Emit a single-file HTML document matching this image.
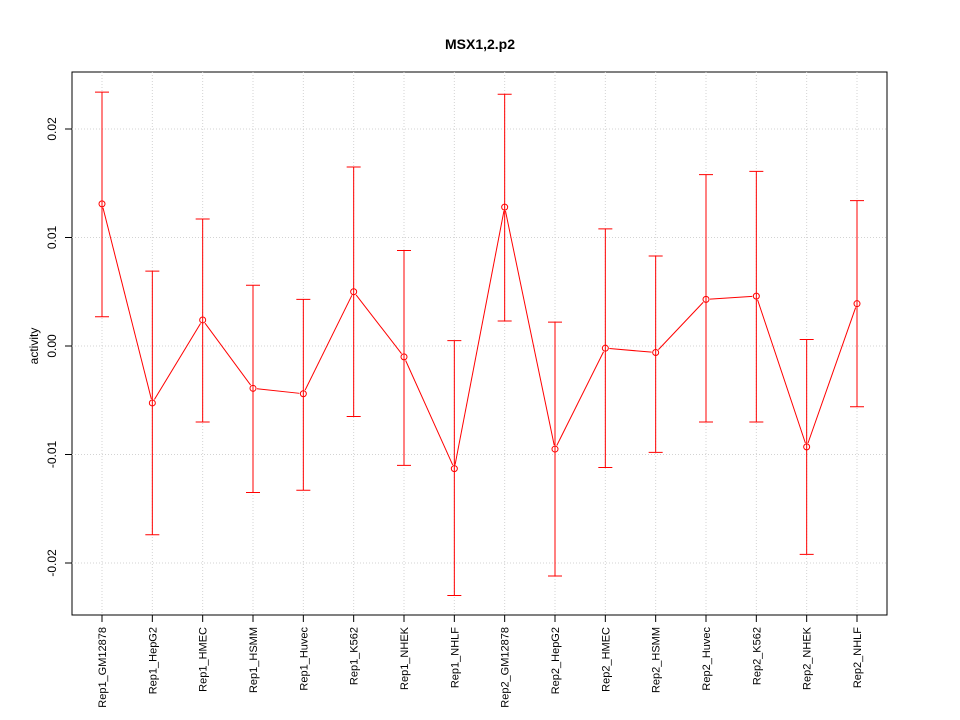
<!DOCTYPE html>
<html><head><meta charset="utf-8"><style>
body{margin:0;background:#fff}
svg{display:block;font-family:"Liberation Sans",sans-serif}
</style></head><body>
<svg id="chart" width="960" height="720">
<text x="480" y="49" text-anchor="middle" font-size="14" font-weight="bold">MSX1,2.p2</text>
<rect x="72" y="72" width="815" height="543" fill="none" stroke="#000"/>
<text transform="translate(38,346) rotate(-90)" text-anchor="middle" font-size="12">activity</text>
<g id="grid"></g><g id="axes"></g><g id="marks"></g>
</svg>
<script>
const categories=["Rep1_GM12878","Rep1_HepG2","Rep1_HMEC","Rep1_HSMM","Rep1_Huvec","Rep1_K562","Rep1_NHEK","Rep1_NHLF","Rep2_GM12878","Rep2_HepG2","Rep2_HMEC","Rep2_HSMM","Rep2_Huvec","Rep2_K562","Rep2_NHEK","Rep2_NHLF"];
const values=[0.0131,-0.00525,0.0024,-0.0039,-0.0044,0.0050,-0.0010,-0.0113,0.0128,-0.0095,-0.0002,-0.0006,0.0043,0.0046,-0.0093,0.0039];
const upper=[0.0234,0.0069,0.0117,0.0056,0.0043,0.0165,0.0088,0.0005,0.0232,0.0022,0.0108,0.0083,0.0158,0.0161,0.0006,0.0134];
const lower=[0.0027,-0.0174,-0.0070,-0.0135,-0.0133,-0.0065,-0.0110,-0.0230,0.0023,-0.0212,-0.0112,-0.0098,-0.0070,-0.0070,-0.0192,-0.0056];
const yTicks=[-0.02,-0.01,0,0.01,0.02];
const yTickLabels=["-0.02","-0.01","0.00","0.01","0.02"];
const NS="http://www.w3.org/2000/svg";
function y(v){return 346-v*10850;}
function x(i){return 102+i*(857-102)/(categories.length-1);}
function mk(p,tag,a){const e=document.createElementNS(NS,tag);for(const k in a)e.setAttribute(k,a[k]);p.appendChild(e);return e;}
const grid=document.getElementById('grid'),axes=document.getElementById('axes'),marks=document.getElementById('marks');
yTicks.forEach((t,i)=>{
 const g=mk(grid,'line',{x1:72,x2:887,y1:y(t),y2:y(t),stroke:'#d3d3d3','stroke-dasharray':'1,2'});
 
 
 const tk=mk(axes,'line',{x1:65,x2:72,y1:y(t),y2:y(t),stroke:'#000'});
 
 
 const lb=mk(axes,'text',{transform:`translate(56,${y(t)}) rotate(-90)`,'text-anchor':'middle','font-size':'12'});
 lb.textContent=yTickLabels[i];
 
 
});
categories.forEach((c,i)=>{
 const g=mk(grid,'line',{x1:x(i),x2:x(i),y1:72,y2:615,stroke:'#d3d3d3','stroke-dasharray':'1,2'});
 
 
 const tk=mk(axes,'line',{x1:x(i),x2:x(i),y1:615,y2:622,stroke:'#000'});
 
 
 const lb=mk(axes,'text',{transform:`translate(${x(i)+4},627) rotate(-90)`,'text-anchor':'end','font-size':'11'});
 lb.textContent=c;
 
 
});
for(let i=0;i<values.length-1;i++){
 const x1=x(i),y1=y(values[i]),x2=x(i+1),y2=y(values[i+1]);
 const dx=x2-x1,dy=y2-y1,L=Math.hypot(dx,dy),ux=dx/L,uy=dy/L;
 const seg=mk(marks,'line',{x1:x1+ux*4,y1:y1+uy*4,x2:x2-ux*4,y2:y2-uy*4,stroke:'#f00'});
 
 
}
values.forEach((v,i)=>{
 const xi=x(i);
 const eb=mk(marks,'path',{d:`M${xi},${y(upper[i])}V${y(lower[i])}M${xi-7},${y(upper[i])}H${xi+7}M${xi-7},${y(lower[i])}H${xi+7}`,stroke:'#f00',fill:'none'});
 
 
 const pt=mk(marks,'circle',{cx:xi,cy:y(v),r:3,fill:'none',stroke:'#f00'});
 
 
});
</script>
</body></html>
